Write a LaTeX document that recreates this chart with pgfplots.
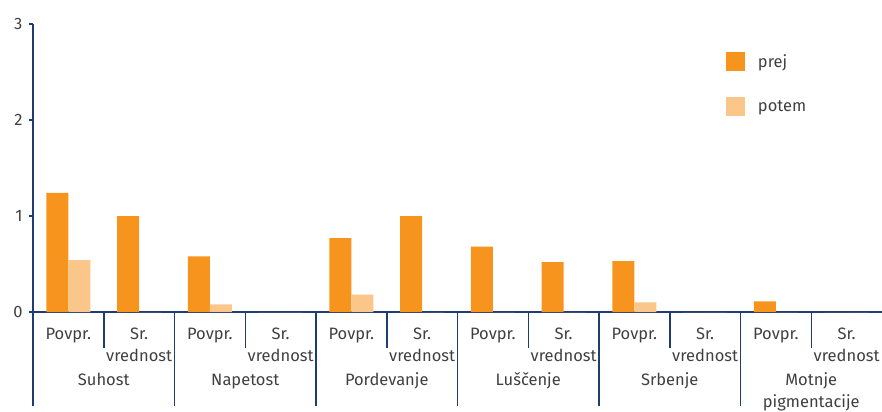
\documentclass[border=0pt]{standalone}
\usepackage{fontspec}
\setmainfont{Fira Sans}
\usepackage{pgfplots}
\pgfplotsset{compat=1.18}
\definecolor{prej}{HTML}{F7941D}
\definecolor{potem}{HTML}{FBC68A}
\definecolor{axc}{HTML}{1F3D73}
\definecolor{txt}{HTML}{404040}
\newcommand\lf{\fontsize{16.5bp}{20bp}\selectfont}
\begin{document}
\begin{tikzpicture}[x=1bp,y=1bp]
\path[use as bounding box] (0,0) rectangle (882,411);
\begin{axis}[
  at={(33bp,99bp)}, anchor=south west,
  scale only axis, width=849bp, height=288bp,
  xmin=-0.5, xmax=11.5, ymin=0, ymax=3,
  ybar=0pt, bar width=22bp,
  axis x line=bottom, axis y line=left,
  axis line style={-, axc, line width=1.5bp},
  xtick=\empty, ytick={0,1,2,3},
  tick align=outside, major tick length=4bp,
  tick style={axc, line width=1.2bp},
  yticklabel style={font=\lf, text=txt, xshift=-3bp},
  /pgf/number format/assume math mode=true,
  clip=false,
  legend style={draw=none, fill=none, at={(rel axis cs:0.816,0.903)}, anchor=north west,
    font=\lf, text=txt, row sep=26bp, inner sep=0pt,
    /tikz/every odd column/.style={column sep=11bp}},
  legend cell align=left,
]
\addplot[fill=prej, draw=none, legend image code/.code={\fill[prej] (0bp,-9.5bp) rectangle (19bp,9.5bp);}]
  coordinates {(0,1.24) (1,1.00) (2,0.58) (3,0) (4,0.77) (5,1.00) (6,0.68) (7,0.52) (8,0.53) (9,0) (10,0.11) (11,0)};
\addlegendentry{prej}
\addplot[fill=potem, draw=none, legend image code/.code={\fill[potem] (0bp,-9.5bp) rectangle (19bp,9.5bp);}]
  coordinates {(0,0.54) (1,0) (2,0.08) (3,0) (4,0.18) (5,0) (6,0) (7,0) (8,0.10) (9,0) (10,0) (11,0)};
\addlegendentry{potem}
% axis extension and separators
\draw[axc, line width=1.5bp] (axis cs:-0.5,0) -- ++(0pt,-94bp);
\pgfplotsinvokeforeach{0.5,2.5,4.5,6.5,8.5,10.5}{
  \draw[axc, line width=1.5bp] (axis cs:#1,0) -- ++(0pt,-36bp);
}
\pgfplotsinvokeforeach{1.5,3.5,5.5,7.5,9.5}{
  \draw[axc, line width=1.5bp] (axis cs:#1,0) -- ++(0pt,-94bp);
}
\pgfplotsinvokeforeach{0,2,4,6,8,10}{
  \node[anchor=base, font=\lf, text=txt, inner sep=0pt] at (axis cs:#1,0) [yshift=-27bp] {Povpr.};
}
\pgfplotsinvokeforeach{1,3,5,7,9,11}{
  \node[anchor=base, font=\lf, text=txt, inner sep=0pt] at (axis cs:#1,0) [yshift=-27bp] {Sr.};
  \node[anchor=base, font=\lf, text=txt, inner sep=0pt] at (axis cs:#1,0) [yshift=-49bp] {vrednost};
}
\node[anchor=base, font=\lf, text=txt, inner sep=0pt] at (axis cs:0.5,0) [yshift=-73bp] {Suhost};
\node[anchor=base, font=\lf, text=txt, inner sep=0pt] at (axis cs:2.5,0) [yshift=-73bp] {Napetost};
\node[anchor=base, font=\lf, text=txt, inner sep=0pt] at (axis cs:4.5,0) [yshift=-73bp] {Pordevanje};
\node[anchor=base, font=\lf, text=txt, inner sep=0pt] at (axis cs:6.5,0) [yshift=-73bp] {Luščenje};
\node[anchor=base, font=\lf, text=txt, inner sep=0pt] at (axis cs:8.5,0) [yshift=-73bp] {Srbenje};
\node[anchor=base, font=\lf, text=txt, inner sep=0pt] at (axis cs:10.5,0) [yshift=-73bp] {Motnje};
\node[anchor=base, font=\lf, text=txt, inner sep=0pt] at (axis cs:10.5,0) [yshift=-95bp] {pigmentacije};
\end{axis}
\end{tikzpicture}
\end{document}
